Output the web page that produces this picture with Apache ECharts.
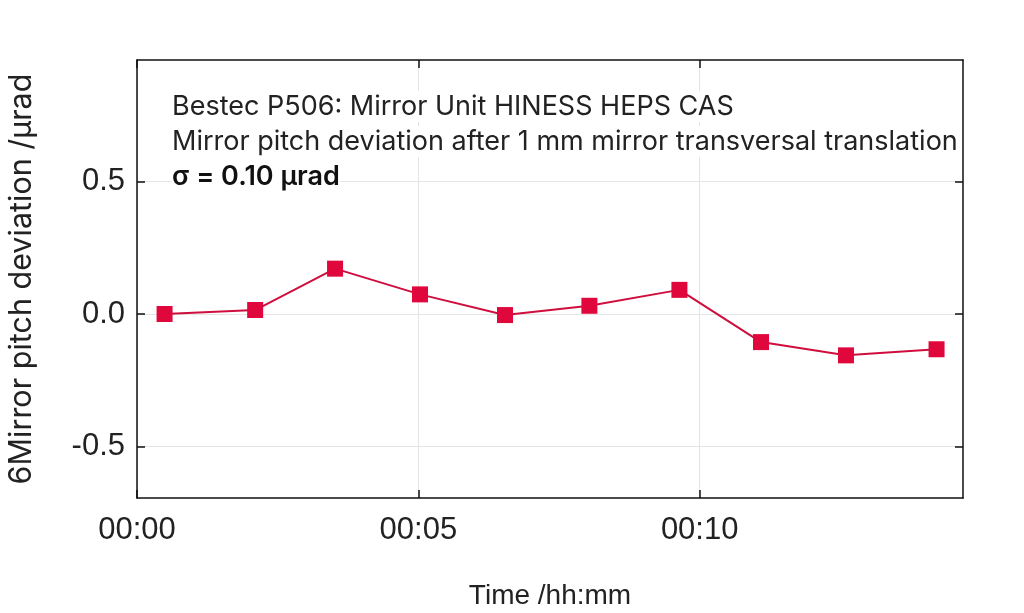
<!DOCTYPE html>
<html>
<head>
<meta charset="utf-8">
<script src="https://cdn.jsdelivr.net/npm/echarts@6/dist/echarts.min.js"></script>
<style>
html,body{margin:0;padding:0;background:#fff;}
#chart{width:1024px;height:613px;}
</style>
</head>
<body>
<div id="chart"></div>
<script>
// Time in minutes since start
var timeMin = [0.49, 2.10, 3.52, 5.03, 6.54, 8.04, 9.64, 11.09, 12.60, 14.21];
// Mirror pitch deviation (µrad)
var pitchDev = [0.000, 0.015, 0.171, 0.074, -0.004, 0.031, 0.091, -0.106, -0.156, -0.133];
var yTicks = [-0.5, 0.0, 0.5];
var xTicks = [0, 5, 10];
var xTickLabels = ['00:00', '00:05', '00:10'];
var titleLines = ['Bestec P506: Mirror Unit HINESS HEPS CAS',
                  'Mirror pitch deviation after 1 mm mirror transversal translation',
                  'σ = 0.10 µrad'];

var FONT = 'Liberation Sans';
var FONT2 = 'Inter';
var chart = echarts.init(document.getElementById('chart'));
var data = timeMin.map(function (t, i) { return [t, pitchDev[i]]; });

function fmtX(v) {
  var i = xTicks.indexOf(Math.round(v));
  return i >= 0 ? xTickLabels[i] : '';
}
function fmtY(v) { return v.toFixed(1); }

var gridLine = { show: true, lineStyle: { color: '#e4e4e4', width: 1 } };
var frame = { show: true, onZero: false, lineStyle: { color: '#111', width: 1.5 } };
var tick = function (vals) {
  return { show: true, inside: true, length: 8, customValues: vals, lineStyle: { color: '#111', width: 1.5 } };
};

chart.setOption({
  animation: false,
  backgroundColor: '#fff',
  textStyle: { fontFamily: FONT },
  grid: { left: 137, right: 61, top: 60, bottom: 115, containLabel: false, outerBoundsMode: 'none' },
  xAxis: [{
    type: 'value', min: 0, max: 14.68, interval: 5,
    name: 'Time /hh:mm', nameLocation: 'middle', nameGap: 84,
    nameTextStyle: { fontSize: 28, color: '#222', fontFamily: FONT },
    axisLine: frame,
    axisTick: tick(xTicks),
    axisLabel: { fontSize: 31, color: '#222', margin: 17, formatter: fmtX, customValues: xTicks, fontFamily: FONT },
    splitLine: gridLine
  }, {
    type: 'value', position: 'top', min: 0, max: 14.68, interval: 5,
    axisLine: frame,
    axisTick: tick(xTicks),
    axisLabel: { show: false }, splitLine: { show: false }
  }],
  yAxis: [{
    type: 'value', min: -0.694, max: 0.958,
    name: '6Mirror pitch deviation /µrad', nameLocation: 'middle', nameGap: 100, nameRotate: 90,
    nameTextStyle: { fontSize: 30.5, color: '#222', fontFamily: FONT2 },
    axisLine: frame,
    axisTick: tick(yTicks),
    axisLabel: { fontSize: 31, color: '#222', margin: 12, formatter: fmtY, customValues: yTicks, fontFamily: FONT },
    splitLine: gridLine
  }, {
    type: 'value', position: 'right', min: -0.694, max: 0.958,
    axisLine: frame,
    axisTick: tick(yTicks),
    axisLabel: { show: false }, splitLine: { show: false }
  }],
  graphic: [
    { type: 'text', x: 172, y: 91, z: 100, style: { text: titleLines[0], font: '27px Inter', fill: '#222', backgroundColor: '#fff', padding: [2, 0] } },
    { type: 'text', x: 172, y: 126, z: 100, style: { text: titleLines[1], font: '27px Inter', fill: '#222', backgroundColor: '#fff', padding: [2, 0] } },
    { type: 'text', x: 172, y: 161, z: 100, style: { text: titleLines[2], font: '600 27px Inter', fill: '#111', backgroundColor: '#fff', padding: [2, 0] } }
  ],
  series: [{
    type: 'line', data: data, xAxisIndex: 0, yAxisIndex: 0,
    symbol: 'rect', symbolSize: 16,
    lineStyle: { color: '#cf0e3e', width: 2 },
    itemStyle: { color: '#e0073d' }
  }]
});
</script>
</body>
</html>
